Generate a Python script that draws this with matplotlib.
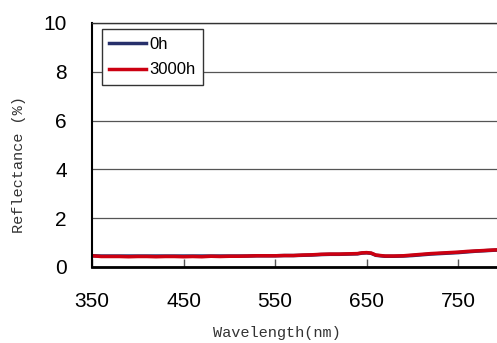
import numpy as np
import matplotlib.pyplot as plt

# wavelength (nm) and reflectance (%)
wavelength = [350, 360, 370, 380, 390, 400, 410, 420, 430, 440, 450, 460, 470,
              480, 490, 500, 510, 520, 530, 540, 550, 560, 570, 580, 590, 600,
              610, 620, 630, 640, 645, 650, 655, 660, 670, 680, 690, 700, 710,
              720, 730, 740, 750, 760, 770, 780, 790, 800]
refl_0h = [0.46, 0.45, 0.45, 0.45, 0.45, 0.45, 0.45, 0.45, 0.45, 0.45, 0.45,
           0.45, 0.45, 0.45, 0.45, 0.45, 0.45, 0.45, 0.46, 0.46, 0.46, 0.47,
           0.47, 0.48, 0.49, 0.51, 0.52, 0.52, 0.53, 0.54, 0.57, 0.58, 0.56,
           0.48, 0.44, 0.44, 0.45, 0.47, 0.50, 0.53, 0.55, 0.57, 0.59, 0.62,
           0.65, 0.67, 0.69, 0.70]
refl_3000h = [0.46, 0.43, 0.43, 0.43, 0.42, 0.43, 0.43, 0.42, 0.43, 0.43, 0.42,
              0.43, 0.42, 0.44, 0.43, 0.44, 0.44, 0.45, 0.46, 0.46, 0.46, 0.47,
              0.47, 0.49, 0.50, 0.52, 0.53, 0.53, 0.54, 0.55, 0.58, 0.59, 0.57,
              0.49, 0.45, 0.45, 0.46, 0.49, 0.52, 0.55, 0.57, 0.59, 0.61, 0.64,
              0.66, 0.68, 0.70, 0.71]

fig = plt.figure(figsize=(4.97, 3.43), dpi=100)
ax = fig.add_axes([92 / 497, 1 - 267 / 343, (504 - 92) / 497, (267 - 23) / 343])

ax.plot(wavelength, refl_0h, color='#27306b', lw=2.5, label='0h')
ax.plot(wavelength, refl_3000h, color='#cc0011', lw=2.5, label='3000h')

ax.set_xlim(350, 800)
ax.set_ylim(0, 10)
ax.set_xticks([350, 450, 550, 650, 750])
ax.set_yticks([0, 2, 4, 6, 8, 10])
ax.yaxis.grid(True, color='#555555', lw=0.9)
ax.set_axisbelow(True)

ax.tick_params(axis='x', direction='in', length=6, width=1, color='#555555',
               labelsize=15, pad=18)
ax.tick_params(axis='y', length=0, labelsize=15, pad=18)
for lab in ax.get_xticklabels() + ax.get_yticklabels():
    lab.set_family('Liberation Sans')

ax.spines['bottom'].set_linewidth(2)
ax.spines['left'].set_linewidth(1.5)
ax.spines['top'].set_color('#333333')
ax.spines['top'].set_linewidth(1)
ax.spines['right'].set_visible(False)

ax.set_xlabel('Wavelength(nm)', family='Liberation Mono', fontsize=11,
              color='#333333')
ax.set_ylabel('Reflectance (%)', family='Liberation Mono', fontsize=11,
              color='#333333')
ax.xaxis.set_label_coords(0.449, -0.242)
ax.yaxis.set_label_coords(-0.16, 0.418)

leg = ax.legend(loc='upper left', bbox_to_anchor=(0.024, 0.975), fancybox=False,
                framealpha=1, edgecolor='#333333', handlelength=2.2,
                handletextpad=0.2, borderpad=0.45, labelspacing=0.65,
                borderaxespad=0, prop={'family': 'Liberation Sans', 'size': 12})
leg.get_frame().set_linewidth(1)

fig.savefig('out.png', dpi=100)
